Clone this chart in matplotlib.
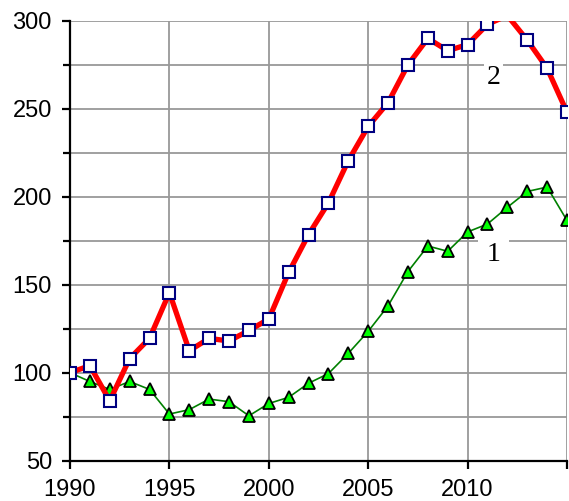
import numpy as np
import matplotlib
matplotlib.use('Agg')
import matplotlib.pyplot as plt
from matplotlib.ticker import MultipleLocator

years = np.arange(1990, 2016)

# series 2 (red line, open squares)
s2 = np.array([100, 104, 84, 108, 119.5, 145.5, 112.5, 119.5, 118, 124, 130.5,
               157, 178.5, 196.5, 220.5, 240, 253.5, 275, 290, 283, 286.5,
               298, 303, 289, 273, 248])

# series 1 (green line, triangles)
s1 = np.array([100, 95, 90.5, 95, 90.5, 76.5, 79, 85, 83.5, 75.5, 82.5,
               86, 94, 99.5, 111, 123.5, 138, 157.5, 172, 169, 180,
               184.5, 194, 203, 205.5, 186.5])

fig = plt.figure(figsize=(5.69, 5.01), dpi=100)
ax = fig.add_axes([0.123, 0.0805, 0.8735, 0.878])

ax.plot(years, s1, color='#008000', linewidth=1.2, zorder=3)
ax.plot(years[1:], s1[1:], linestyle='none', marker='^', markersize=8.5,
        markerfacecolor='#00ff00', markeredgecolor='black', markeredgewidth=1.3, zorder=4)

ax.plot(years, s2, color='#ff0000', linewidth=3.8, zorder=5)
s2_marks = np.where(s2 > 300, np.nan, s2)
ax.plot(years, s2_marks, linestyle='none', marker='s', markersize=8.5,
        markerfacecolor='white', markeredgecolor='#000080', markeredgewidth=1.5, zorder=6)

ax.text(2011.3, 268, '2', fontsize=20, family='Liberation Serif', ha='center', va='center',
        zorder=2, bbox=dict(facecolor='white', edgecolor='none', pad=2))
ax.text(2011.3, 167, '1', fontsize=20, family='Liberation Serif', ha='center', va='center',
        zorder=2, bbox=dict(facecolor='white', edgecolor='none', pad=6))

ax.set_xlim(1990, 2015)
ax.set_ylim(50, 300)
ax.xaxis.set_major_locator(MultipleLocator(5))
ax.yaxis.set_major_locator(MultipleLocator(50))
ax.yaxis.set_minor_locator(MultipleLocator(25))
ax.grid(True, which='both', color='#999999', linewidth=1.3, zorder=0)
ax.set_axisbelow(True)

for side in ['top', 'right']:
    ax.spines[side].set_visible(False)
for side in ['left', 'bottom']:
    ax.spines[side].set_linewidth(1.6)
    ax.spines[side].set_zorder(1)

ax.tick_params(axis='both', which='major', direction='out', length=6, width=1.6,
               labelsize=17, pad=7)
ax.tick_params(axis='y', which='minor', direction='out', length=5, width=1.6)
ax.set_xticks([1990, 1995, 2000, 2005, 2010, 2015])
ax.set_xticklabels(['1990', '1995', '2000', '2005', '2010', ''])
for lbl in ax.get_xticklabels() + ax.get_yticklabels():
    lbl.set_family('Liberation Sans')

fig.savefig('out.png', dpi=100)
